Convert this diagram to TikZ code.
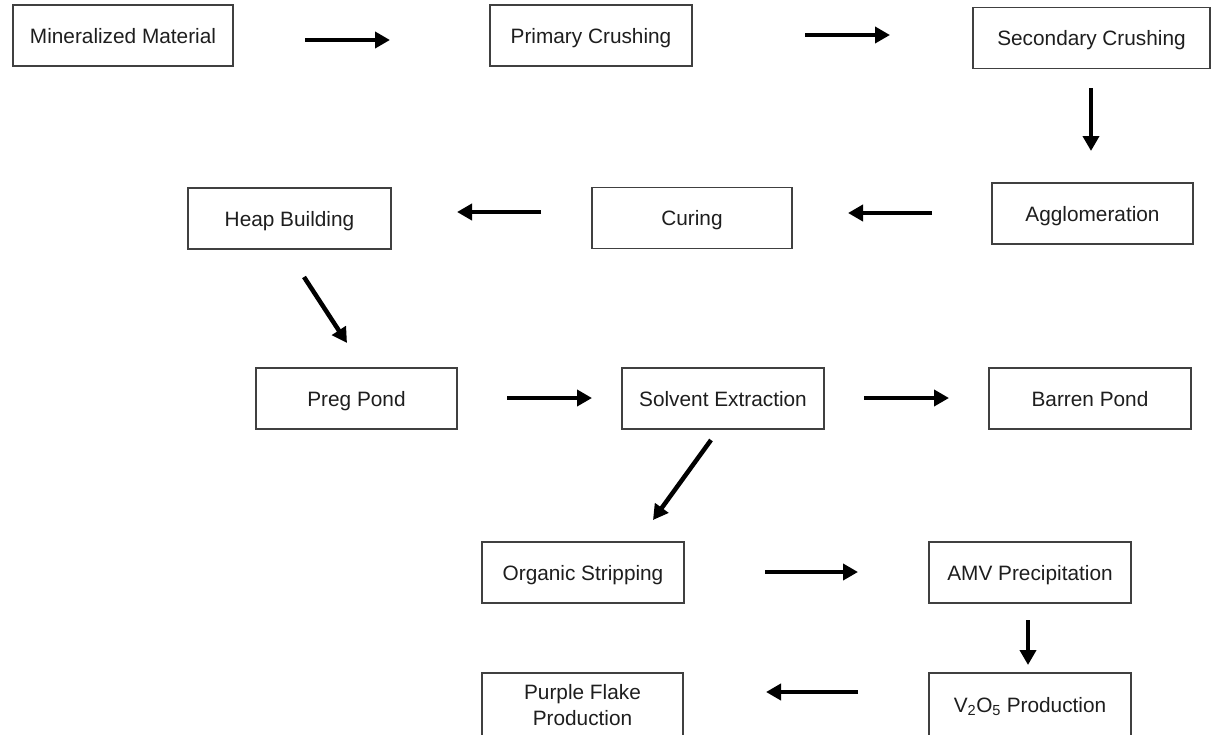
\documentclass[tikz,border=0pt]{standalone}
\usepackage{fontspec}
\setmainfont{Liberation Sans}
\usetikzlibrary{arrows.meta}
\definecolor{boxline}{HTML}{404040}
\definecolor{txt}{HTML}{1E1E1E}
\begin{document}
\begin{tikzpicture}[x=1pt,y=-1pt,
  stepbox/.style={draw=boxline, line width=1.5pt, fill=white, inner sep=0pt,
    minimum width=202pt, minimum height=61pt, text=txt,
    font=\fontsize{20.8}{26}\selectfont, text height=15pt, text depth=0pt, align=center},
  flow/.style={line width=4.5pt, -{Triangle[length=15pt,width=16pt]}}]
\useasboundingbox (0,0) rectangle (1215,734);
\clip (0,0) rectangle (1215,734);
% boxes
\node[stepbox, minimum width=220pt] (min) at (123,35.5) {Mineralized Material};
\node[stepbox] (pri) at (591,35.5) {Primary Crushing};
\node[stepbox, minimum width=237pt] (sec) at (1091.5,38) {Secondary Crushing};
\node[stepbox, minimum width=201pt] (agg) at (1092.5,213.5) {Agglomeration};
\node[stepbox, minimum width=200pt] (cur) at (692,218) {Curing};
\node[stepbox, minimum width=203pt] (heap) at (289.5,218.5) {Heap Building};
\node[stepbox, minimum width=201pt] (preg) at (356.5,398.5) {Preg Pond};
\node[stepbox] (solv) at (723,398.5) {Solvent Extraction};
\node[stepbox] (barren) at (1090,398.5) {Barren Pond};
\node[stepbox] (org) at (583,572.5) {Organic Stripping};
\node[stepbox] (amv) at (1030,572.5) {AMV Precipitation};
\node[stepbox, minimum height=63pt] (v2o5) at (1030,704.5) {V\textsubscript{2}O\textsubscript{5} Production};
\node[stepbox, minimum width=201pt, minimum height=63pt, text height=41pt, text depth=0pt] (purple) at (582.5,704.5) {Purple Flake\\Production};
% arrow end points
\coordinate (a1s) at (305,40);   \coordinate (a1e) at (390,40);
\coordinate (a2s) at (805,35);   \coordinate (a2e) at (890,35);
\coordinate (a3s) at (1091,88);  \coordinate (a3e) at (1091,151);
\coordinate (a4s) at (932,213);  \coordinate (a4e) at (848,213);
\coordinate (a5s) at (541,212);  \coordinate (a5e) at (457,212);
\coordinate (a6s) at (304,277);  \coordinate (a6e) at (347,343);
\coordinate (a7s) at (507,398);  \coordinate (a7e) at (592,398);
\coordinate (a8s) at (864,398);  \coordinate (a8e) at (949,398);
\coordinate (a9s) at (711,440);  \coordinate (a9e) at (653,520);
\coordinate (a10s) at (765,572); \coordinate (a10e) at (858,572);
\coordinate (a11s) at (1028,620);\coordinate (a11e) at (1028,665);
\coordinate (a12s) at (858,692); \coordinate (a12e) at (766,692);
% arrows
\draw[flow] (a1s) -- (a1e);
\draw[flow] (a2s) -- (a2e);
\draw[flow] (a3s) -- (a3e);
\draw[flow] (a4s) -- (a4e);
\draw[flow] (a5s) -- (a5e);
\draw[flow] (a6s) -- (a6e);
\draw[flow] (a7s) -- (a7e);
\draw[flow] (a8s) -- (a8e);
\draw[flow] (a9s) -- (a9e);
\draw[flow] (a10s) -- (a10e);
\draw[flow] (a11s) -- (a11e);
\draw[flow] (a12s) -- (a12e);
\end{tikzpicture}
\end{document}
